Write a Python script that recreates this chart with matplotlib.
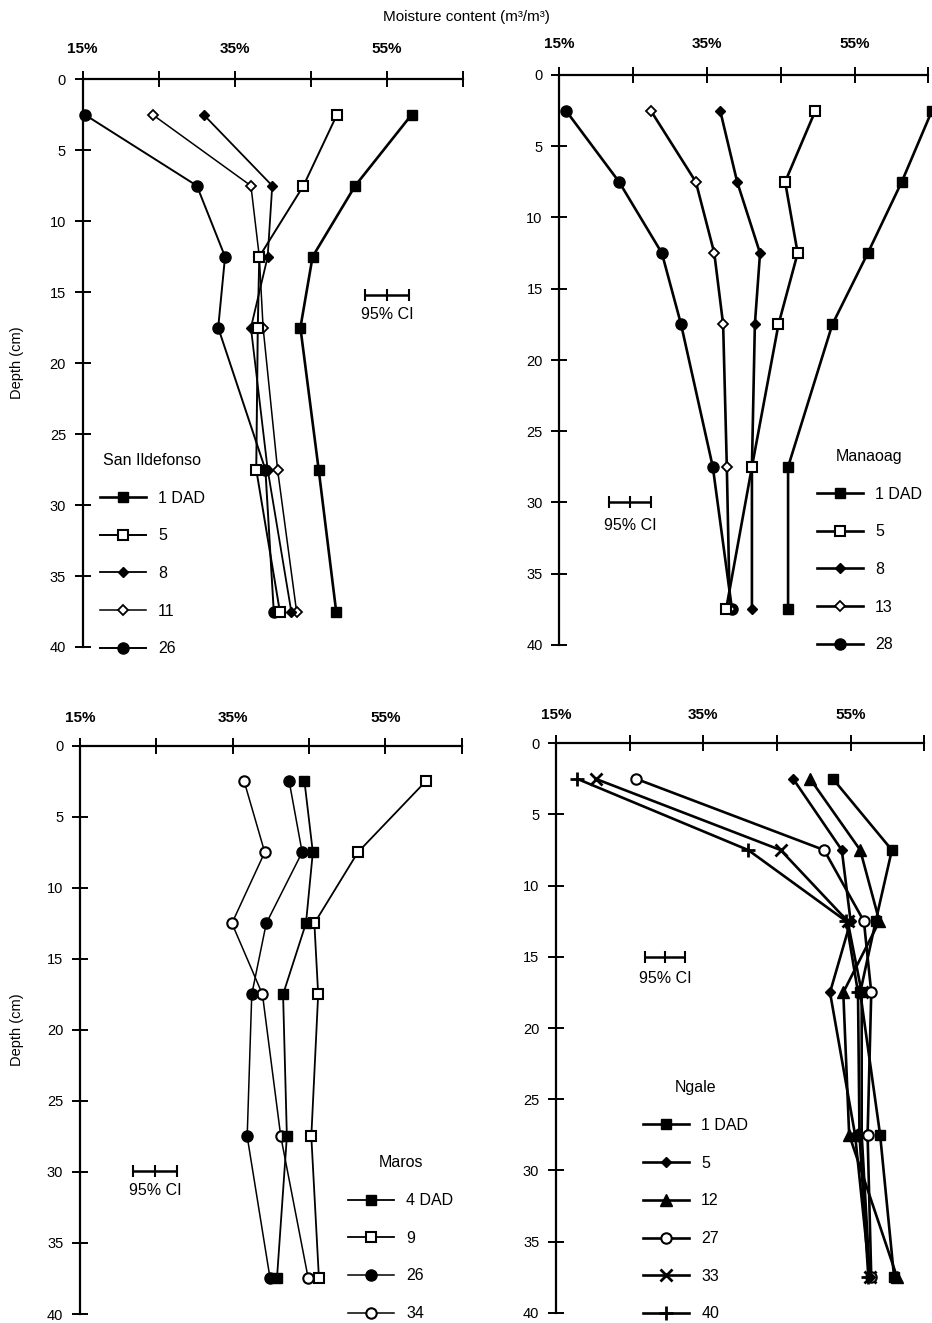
import matplotlib
matplotlib.use("Agg")
import matplotlib.pyplot as plt

plt.rcParams['font.family'] = ['Liberation Sans', 'DejaVu Sans']

W, H = 932, 1323

# Sampling depths (cm)
depth = [2.5, 7.5, 12.5, 17.5, 27.5, 37.5]

# Volumetric moisture content (%) per site and days after drainage (DAD)
si_labels = ["1 DAD", "5", "8", "11", "26"]
si_d1 = [58.2, 50.8, 45.2, 43.6, 46.0, 48.3]
si_d5 = [48.4, 44.0, 38.2, 38.0, 37.8, 40.9]
si_d8 = [30.9, 39.9, 39.3, 37.1, 39.3, 42.4]
si_d11 = [24.2, 37.1, 38.2, 38.7, 40.6, 43.1]
si_d26 = [15.3, 30.0, 33.7, 32.8, 39.0, 40.1]

ma_labels = ["1 DAD", "5", "8", "13", "28"]
ma_d1 = [65.5, 61.4, 56.8, 52.0, 46.0, 46.0]
ma_d5 = [49.7, 45.6, 47.3, 44.7, 41.1, 37.6]
ma_d8 = [36.8, 39.1, 42.2, 41.5, 41.1, 41.1]
ma_d13 = [27.4, 33.5, 36.0, 37.2, 37.7, 38.1]
ma_d28 = [15.9, 23.1, 28.9, 31.5, 35.8, 38.4]

mr_labels = ["4 DAD", "9", "26", "34"]
mr_d4 = [44.4, 45.5, 44.6, 41.6, 42.1, 40.8]
mr_d9 = [60.3, 51.4, 45.7, 46.2, 45.3, 46.3]
mr_d26 = [42.4, 44.1, 39.4, 37.5, 36.9, 39.9]
mr_d34 = [36.5, 39.2, 34.9, 38.9, 41.3, 44.9]

ng_labels = ["1 DAD", "5", "12", "27", "33", "40"]
ng_d1 = [52.6, 60.6, 58.4, 56.3, 59.0, 60.9]
ng_d5 = [47.2, 53.8, 55.0, 52.2, 55.6, 57.6]
ng_d12 = [49.5, 56.3, 58.9, 54.0, 54.8, 61.3]
ng_d27 = [25.9, 51.4, 56.8, 57.8, 57.3, 57.8]
ng_d33 = [20.4, 45.5, 54.6, 56.5, 56.5, 57.6]
ng_d40 = [17.9, 41.1, 54.4, 56.0, 56.2, 57.4]

# 95% confidence interval bars: (centre %, half-width %, depth cm)
si_ci = (55.0, 2.9, 15.2)
ma_ci = (24.6, 2.8, 30.0)
mr_ci = (24.8, 2.9, 29.9)
ng_ci = (29.8, 2.75, 15.0)

x_ticks = [15, 25, 35, 45, 55, 65]
x_ticklabels = ["15%", "", "35%", "", "55%", ""]
y_ticks = [0, 5, 10, 15, 20, 25, 30, 35, 40]

# marker styles
SQF = dict(marker='s', ms=7.5, mfc='black', mec='black')
SQO = dict(marker='s', ms=7.5, mfc='white', mec='black', mew=1.5)
DMF = dict(marker='D', ms=5.5, mfc='black', mec='black')
DMO = dict(marker='D', ms=5, mfc='white', mec='black', mew=1.3)
CIF = dict(marker='o', ms=8, mfc='black', mec='black')
CIO = dict(marker='o', ms=7.5, mfc='white', mec='black', mew=1.5)
TRF = dict(marker='^', ms=8.5, mfc='black', mec='black')
XMK = dict(marker='x', ms=8, mec='black', mew=2)
PMK = dict(marker='+', ms=10, mec='black', mew=2)

fig = plt.figure(figsize=(W / 100, H / 100), dpi=100)


def add_panel(px_left, px_right, px_top, px_bottom):
    return fig.add_axes([px_left / W, 1 - px_bottom / H,
                         (px_right - px_left) / W, (px_bottom - px_top) / H])


def draw_panel(ax, series, title, anchor, ci, ci_text_depth, xpad, ylabel):
    n = len(series)
    for i, (label, values, style, lw) in enumerate(series):
        ax.plot(values, depth, color='black', lw=lw, label=label,
                clip_on=False, zorder=3 + (n - i) * 0.1, **style)
    ax.set_xlim(15, 65)
    ax.set_ylim(40, 0)
    ax.xaxis.tick_top()
    ax.set_xticks(x_ticks)
    ax.set_xticklabels(x_ticklabels)
    ax.set_yticks(y_ticks)
    for s in ('right', 'bottom'):
        ax.spines[s].set_visible(False)
    for s in ('top', 'left'):
        ax.spines[s].set_linewidth(1.6)
    ax.tick_params(axis='x', direction='inout', length=12, width=1.4,
                   pad=xpad, labelsize=11)
    ax.tick_params(axis='y', direction='inout', length=12, width=1.4,
                   pad=6, labelsize=10.5)
    for t in ax.get_xticklabels():
        t.set_fontweight('bold')
    ax.patch.set_visible(False)

    c, hw, d = ci
    ax.errorbar([c], [d], xerr=[hw], fmt='|', color='black', ms=8, mew=1.5,
                elinewidth=1.8, capsize=4, capthick=1.5)
    ax.text(c, ci_text_depth, "95% CI", ha='center', va='center', fontsize=11.5)

    leg = ax.legend(loc='upper left', bbox_to_anchor=anchor, frameon=False,
                    title=title, fontsize=11.5, title_fontsize=11.5,
                    handlelength=2.9, handletextpad=0.75, labelspacing=1.42,
                    borderpad=0, borderaxespad=0, numpoints=1)
    leg.set_clip_on(False)

    if ylabel:
        ax.set_ylabel("Depth (cm)", fontsize=10.5)


ax1 = add_panel(82.7, 463.3, 79.3, 647)
draw_panel(ax1, [
    (si_labels[0], si_d1, SQF, 1.9),
    (si_labels[1], si_d5, SQO, 1.4),
    (si_labels[2], si_d8, DMF, 1.3),
    (si_labels[3], si_d11, DMO, 1.1),
    (si_labels[4], si_d26, CIF, 1.4),
], "San Ildefonso", (0.045, 0.342), si_ci, 16.6, 11, True)
ax1.yaxis.set_label_coords(-(82.7 - 24) / 380.6, 0.5)

ax2 = add_panel(559.3, 928.3, 75, 645)
draw_panel(ax2, [
    (ma_labels[0], ma_d1, SQF, 1.9),
    (ma_labels[1], ma_d5, SQO, 1.9),
    (ma_labels[2], ma_d8, DMF, 1.9),
    (ma_labels[3], ma_d13, DMO, 1.9),
    (ma_labels[4], ma_d28, CIF, 1.9),
], "Manaoag", (0.698, 0.344), ma_ci, 31.6, 11, False)

ax3 = add_panel(80, 461.7, 745.7, 1314)
draw_panel(ax3, [
    (mr_labels[0], mr_d4, SQF, 1.3),
    (mr_labels[1], mr_d9, SQO, 1.3),
    (mr_labels[2], mr_d26, CIF, 1.1),
    (mr_labels[3], mr_d34, CIO, 1.1),
], "Maros", (0.702, 0.279), mr_ci, 31.3, 9, True)
ax3.yaxis.set_label_coords(-(80 - 24) / 381.7, 0.5)

ax4 = add_panel(556, 924.3, 743.3, 1312.7)
draw_panel(ax4, [
    (ng_labels[0], ng_d1, SQF, 1.9),
    (ng_labels[1], ng_d5, DMF, 1.9),
    (ng_labels[2], ng_d12, TRF, 1.9),
    (ng_labels[3], ng_d27, CIO, 1.9),
    (ng_labels[4], ng_d33, XMK, 1.9),
    (ng_labels[5], ng_d40, PMK, 1.9),
], "Ngale", (0.236, 0.408), ng_ci, 16.5, 9, False)

fig.text(466 / W, 1 - 17 / H, "Moisture content (m\u00b3/m\u00b3)",
         ha='center', va='center', fontsize=11)

fig.savefig("out.png", dpi=100, facecolor='white')
